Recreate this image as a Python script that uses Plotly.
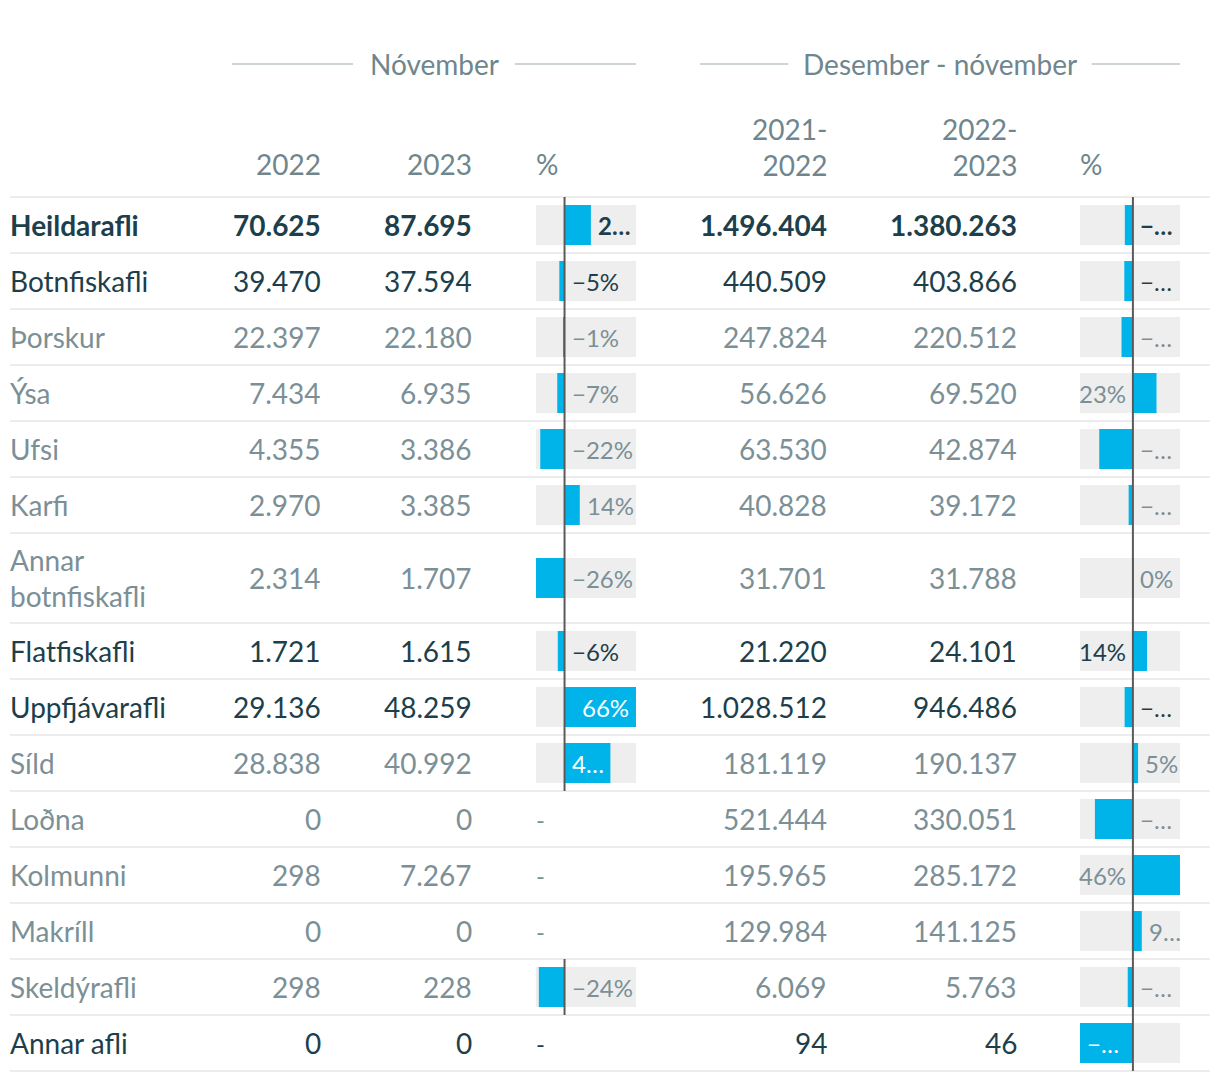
import plotly.graph_objects as go

# ---------------- data ----------------
categories = ["Heildarafli", "Botnfiskafli", "Þorskur", "Ýsa", "Ufsi", "Karfi",
              "Annar botnfiskafli", "Flatfiskafli", "Uppfjávarafli", "Síld", "Loðna",
              "Kolmunni", "Makríll", "Skeldýrafli", "Annar afli"]
level = [0, 1, 2, 2, 2, 2, 2, 1, 1, 2, 2, 2, 2, 2, 1]   # 0 total, 1 group, 2 item
nov_2022 = [70625, 39470, 22397, 7434, 4355, 2970, 2314, 1721, 29136, 28838, 0, 298, 0, 298, 0]
nov_2023 = [87695, 37594, 22180, 6935, 3386, 3385, 1707, 1615, 48259, 40992, 0, 7267, 0, 228, 0]
nov_pct = [24.2, -4.8, -1.0, -6.7, -22.3, 14.0, -26.2, -6.2, 65.6, 42.1, None, None, None, -23.6, None]
ytd_2122 = [1496404, 440509, 247824, 56626, 63530, 40828, 31701, 21220, 1028512, 181119,
            521444, 195965, 129984, 6069, 94]
ytd_2223 = [1380263, 403866, 220512, 69520, 42874, 39172, 31788, 24101, 946486, 190137,
            330051, 285172, 141125, 5763, 46]
ytd_pct = [-7.8, -8.3, -11.0, 22.8, -32.5, -4.1, 0.3, 13.6, -8.0, 5.0, -36.7, 45.5, 8.6, -5.0, -51.1]
group_titles = ["Nóvember", "Desember - nóvember"]
col_titles = ["2022", "2023", "%", "2021-<br>2022", "2022-<br>2023", "%"]

# ---------------- style / layout ----------------
W, H = 1220, 1082
OFF = 8                      # page body margin
FW, FH = W - OFF, H - OFF    # figure size
FONT = "Lato"
DARK = "#1d3f4c"
GREY = "#7b9096"
HEAD = "#6f868d"
BLUE = "#00b4ea"
BOX = "#eeeeee"
SEP = "#ececec"
ZERO = "#5a5a5a"
FS = 28
FS_PCT = 24
HEADER_BOTTOM = 197
ROW_H = 56
LINE_H = 34
BAR_H = 40
LABEL_X = 10
LABEL_COL_W = 215
NUM_RIGHT = [321, 472, 827, 1017]
BOX_NOV = (536, 636)
BOX_YTD = (1080, 1180)
PAD = 7
EDGE = 1
EST_CH = 11.5
MIN_INSIDE = 30
RULE_GAP = 16

CW = {"0": .58, "1": .58, "2": .58, "3": .58, "4": .58, "5": .58, "6": .58, "7": .58,
      "8": .58, "9": .58, "%": .73, "\u2212": .58, "\u2026": .72, ".": .25, "-": .36,
      "N": .74, "D": .70, "ó": .55, "v": .50, "e": .53, "m": .84, "b": .57, "r": .37,
      "s": .42, "n": .57, " ": .19}


def px(x):
    return (x - OFF) / FW


def text_w(s, size, bold=False):
    w = sum(CW.get(c, 0.5) for c in s) * size
    return w * (1.03 if bold else 1.0)


def fmt(n):
    return f"{n:,}".replace(",", ".")


def pct_text(v):
    r = round(v)
    return ("\u2212" if r < 0 else "") + f"{abs(r)}%"


def wrap(label):
    if text_w(label, FS) <= LABEL_COL_W:
        return label, 1
    words = label.split(" ")
    return "<br>".join(words), len(words)


labels, nlines = zip(*[wrap(c) for c in categories])
row_tops, row_bots, row_ctr = [], [], []
y = HEADER_BOTTOM
for n in nlines:
    h = ROW_H + (n - 1) * LINE_H
    row_tops.append(y)
    row_bots.append(y + h)
    row_ctr.append(y + h / 2)
    y += h


def color_of(i):
    return DARK if level[i] <= 1 else GREY


fig = go.Figure()
annotations = []
shapes = []


def ann(text, x, y, xanchor, color, size=FS, bold=False):
    annotations.append(dict(
        text=text, x=px(x), y=y, xref="paper", yref="y", xanchor=xanchor, yanchor="middle",
        showarrow=False, borderpad=0, borderwidth=0,
        align=xanchor if xanchor != "center" else "center",
        font=dict(family=FONT, size=size, color=color, weight="bold" if bold else "normal")))


def place_label(i, v, lo, hi, L, R):
    k = (R - L) / (hi - lo)
    z = L + (0 - lo) * k
    e = z + v * k
    txt = pct_text(v)
    est = EST_CH * len(txt)
    if v >= 0:
        opts = [("right", e + PAD, R - EDGE, "left"), ("opp", L, z - PAD, "right"),
                ("inside", z + PAD, e - PAD, "right")]
    else:
        opts = [("opp", z + PAD, R - EDGE, "left"), ("inside", e + PAD, z - PAD, "left"),
                ("outside", L, e - PAD, "right")]
    chosen = next((o for o in opts if o[2] - o[1] >= est), None)
    if chosen is None:
        ins = [o for o in opts if o[0] == "inside"][0]
        chosen = ins if ins[2] - ins[1] >= MIN_INSIDE else max(opts, key=lambda o: o[2] - o[1])
    kind, x0, x1, align = chosen
    space = x1 - x0
    bold = level[i] == 0
    col = "#ffffff" if kind == "inside" else color_of(i)
    if text_w(txt, FS_PCT, bold) > space:
        p = 1
        while p < len(txt) and text_w(txt[:p + 1] + "\u2026", FS_PCT, bold) <= space:
            p += 1
        ann(txt[:p] + "\u2026", x0, row_ctr[i], "left", col, FS_PCT, bold)
    else:
        ann(txt, x0 if align == "left" else x1, row_ctr[i], align, col, FS_PCT, bold)


# bars (grey range box + blue value bar) in two small axes
for vals, axis, (L, R) in [(nov_pct, "x2", BOX_NOV), (ytd_pct, "x3", BOX_YTD)]:
    idx = [i for i, v in enumerate(vals) if v is not None]
    lo = min(vals[i] for i in idx)
    hi = max(vals[i] for i in idx)
    fig.add_trace(go.Bar(
        orientation="h", y=[row_ctr[i] for i in idx], x=[hi - lo] * len(idx),
        base=[lo] * len(idx), width=BAR_H, marker=dict(color=BOX, line=dict(width=0)),
        xaxis=axis, yaxis="y", hoverinfo="skip", showlegend=False))
    fig.add_trace(go.Bar(
        orientation="h", y=[row_ctr[i] for i in idx], x=[vals[i] for i in idx],
        base=0, width=BAR_H, marker=dict(color=BLUE, line=dict(width=0)),
        xaxis=axis, yaxis="y", hoverinfo="skip", showlegend=False))
    for i in idx:
        shapes.append(dict(type="line", xref=axis, yref="y", x0=0, x1=0,
                           y0=row_tops[i], y1=row_bots[i], layer="above",
                           line=dict(color=ZERO, width=2)))
        place_label(i, vals[i], lo, hi, L, R)
    for i, v in enumerate(vals):
        if v is None:
            ann("-", L, row_ctr[i], "left", color_of(i), FS_PCT)

# row separators
for yy in [HEADER_BOTTOM] + row_bots:
    shapes.append(dict(type="line", xref="paper", yref="y", x0=px(10), x1=px(1210),
                       y0=yy, y1=yy, layer="below", line=dict(color=SEP, width=2)))

# row text
for i in range(len(categories)):
    c = color_of(i)
    b = level[i] == 0
    ann(labels[i], LABEL_X, row_ctr[i], "left", c, FS, b)
    for xr, arr in zip(NUM_RIGHT, [nov_2022, nov_2023, ytd_2122, ytd_2223]):
        ann(fmt(arr[i]), xr, row_ctr[i], "right", c, FS, b)

# column headers
ann(col_titles[0], NUM_RIGHT[0], 164, "right", HEAD)
ann(col_titles[1], NUM_RIGHT[1], 164, "right", HEAD)
ann(col_titles[2], BOX_NOV[0], 164, "left", HEAD)
ann(col_titles[3], NUM_RIGHT[2], 147, "right", HEAD)
ann(col_titles[4], NUM_RIGHT[3], 147, "right", HEAD)
ann(col_titles[5], BOX_YTD[0], 164, "left", HEAD)

# group headers with rules
for title, (gx0, gx1) in zip(group_titles, [(232, 636), (700, 1180)]):
    cx = (gx0 + gx1) / 2
    ann(title, cx, 64, "center", HEAD)
    half = text_w(title, FS) / 2 + RULE_GAP
    for a, b in [(gx0, cx - half), (cx + half, gx1)]:
        shapes.append(dict(type="line", xref="paper", yref="y", x0=px(a), x1=px(b),
                           y0=64, y1=64, line=dict(color="#cfd4d6", width=2)))

ax_hidden = dict(visible=False, showgrid=False, zeroline=False, fixedrange=True)
lo2, hi2 = min(v for v in nov_pct if v is not None), max(v for v in nov_pct if v is not None)
lo3, hi3 = min(ytd_pct), max(ytd_pct)
fig.update_layout(
    width=FW, height=FH, margin=dict(l=0, r=0, t=0, b=0),
    paper_bgcolor="white", plot_bgcolor="rgba(0,0,0,0)",
    barmode="overlay", showlegend=False,
    xaxis2=dict(domain=[px(BOX_NOV[0]), px(BOX_NOV[1])], range=[lo2, hi2], anchor="y", **ax_hidden),
    xaxis3=dict(domain=[px(BOX_YTD[0]), px(BOX_YTD[1])], range=[lo3, hi3], anchor="y", **ax_hidden),
    yaxis=dict(domain=[0, 1], range=[H, OFF], anchor="x2", **ax_hidden),
    annotations=annotations, shapes=shapes,
    font=dict(family=FONT),
)
fig.write_html("out.html", config={"displayModeBar": False})
